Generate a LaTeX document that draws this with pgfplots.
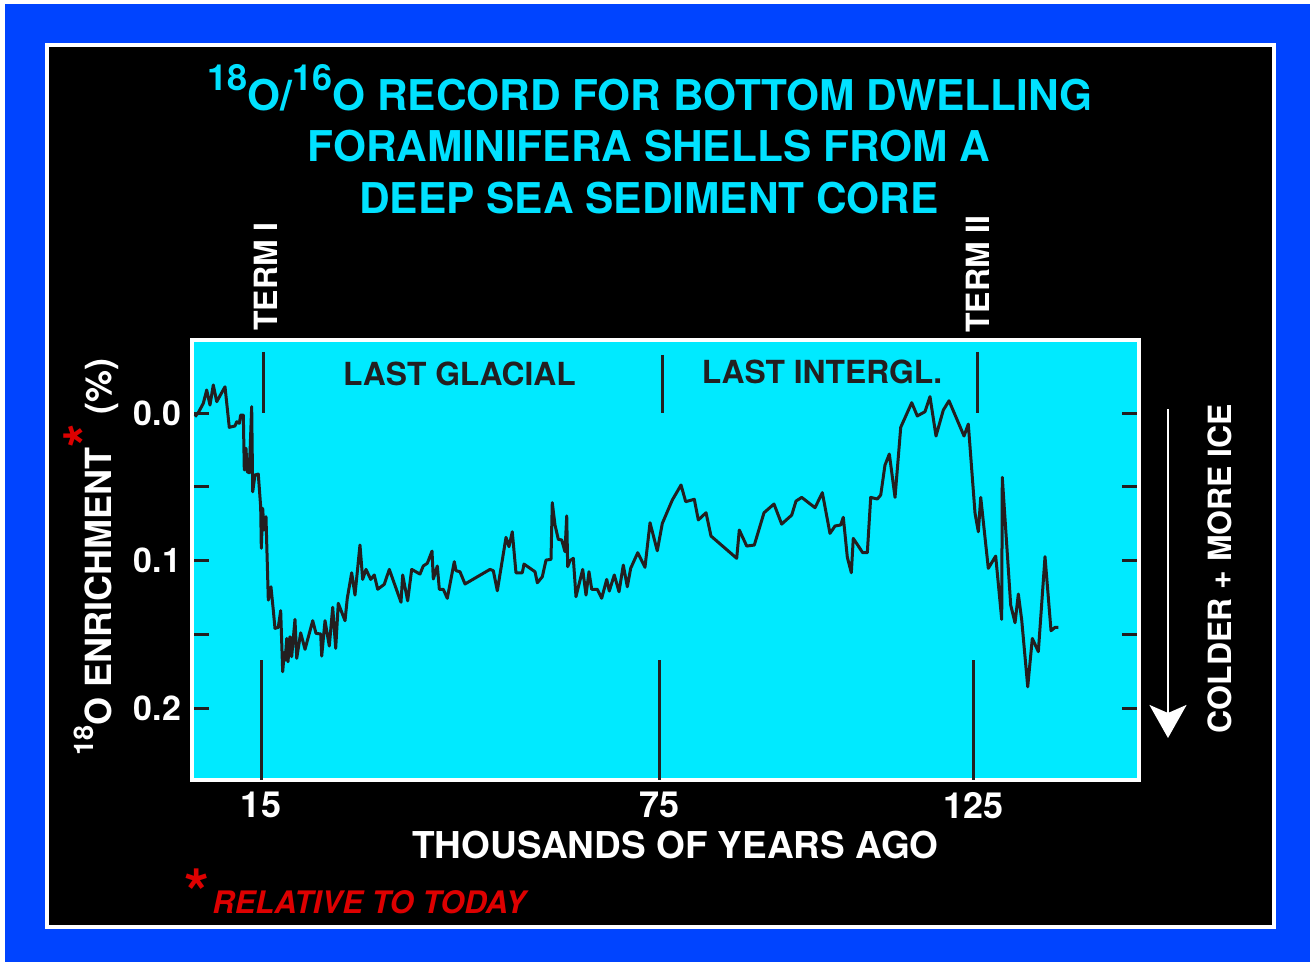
\documentclass[border=0pt]{standalone}
\usepackage{fontspec}
\setmainfont{TeX Gyre Heros}
\usepackage{pgfplots}
\pgfplotsset{compat=1.18}
\usetikzlibrary{arrows.meta}
\definecolor{SlideBlue}{RGB}{0,68,255}
\definecolor{CoreCyan}{RGB}{0,234,255}
\definecolor{TitleCyan}{RGB}{0,225,255}
\definecolor{CoreInk}{RGB}{35,31,32}
\definecolor{StarRed}{RGB}{221,0,0}

\begin{document}
\begin{tikzpicture}
% slide background, in pixel units of the original (origin = lower left of the axis)
\begin{scope}[shift={(-96pt,390pt)},x=0.5pt,y=-0.5pt]
\fill[white] (0,0) rectangle (1314,966);
\fill[SlideBlue] (5,4) rectangle (1310,962);
\fill[white] (45,43) rectangle (1276,929);
\fill[black] (49,47) rectangle (1272,925);
\end{scope}

\begin{axis}[
	at={(0pt,0pt)}, anchor=south west,
	scale only axis,
	width=473.5pt, height=220pt,
	xmin=4.34, xmax=150.64,
	ymin=-0.0495, ymax=0.2488,
	y dir=reverse,
	axis background/.style={fill=CoreCyan},
	axis line style={white, line width=2pt},
	xtick={15,76.49,125},
	xticklabels={15,75,125},
	xtick style={draw=none},
	xticklabel pos=lower,
	ytick={0,0.05,0.1,0.15,0.2},
	yticklabels={0.0,,0.1,,0.2},
	ytick pos=both,
	yticklabel pos=left,
	tick align=inside,
	major tick length=8.5pt,
	ytick style={CoreInk, line width=1.5pt},
	ticklabel style={text=white},
	xticklabel style={font=\bfseries\fontsize{18}{20}\selectfont, yshift=-2.5pt},
	yticklabel style={font=\bfseries\fontsize{17}{19}\selectfont, xshift=-2pt},
	/pgf/number format/assume math mode=true,
]
\addplot[CoreInk, line width=1.5pt, line join=round, mark=none] coordinates {
(4.80,0.0025) (5.31,-0.0002) (6.09,-0.0066) (6.61,-0.0156) (7.12,-0.0054) (7.63,-0.0190)
(8.16,-0.0077) (9.44,-0.0178) (10.10,0.0097) (10.98,0.0088) (11.25,0.0059) (11.65,0.0070)
(11.86,0.0014) (12.27,0.0014) (12.42,0.0386) (12.68,0.0239) (12.88,0.0398) (13.19,0.0405)
(13.56,-0.0043) (13.72,0.0534) (14.07,0.0420) (14.58,0.0414) (14.95,0.0635) (15.05,0.0917)
(15.26,0.0646) (15.46,0.0793) (15.77,0.0703) (16.13,0.1268) (16.54,0.1178) (16.90,0.1336)
(17.16,0.1460) (17.67,0.1453) (18.04,0.1340) (18.35,0.1754) (18.60,0.1625) (18.75,0.1675)
(18.97,0.1528) (19.17,0.1686) (19.48,0.1517) (19.74,0.1652) (20.25,0.1399) (20.52,0.1663)
(21.13,0.1490) (21.80,0.1602) (22.99,0.1408) (23.50,0.1494) (24.22,0.1498) (24.38,0.1648)
(24.89,0.1408) (25.55,0.1580) (26.08,0.1317) (26.54,0.1595) (26.94,0.1290) (27.98,0.1408)
(28.33,0.1256) (29.01,0.1083) (29.52,0.1234) (30.29,0.0895) (30.71,0.1128) (31.22,0.1060)
(31.95,0.1128) (32.50,0.1098) (33.03,0.1195) (34.05,0.1161) (34.82,0.1060) (36.63,0.1283)
(36.89,0.1098) (37.25,0.1182) (37.66,0.1273) (38.28,0.1060) (39.56,0.1092) (40.07,0.1037)
(40.69,0.1019) (41.42,0.0936) (41.62,0.1125) (42.24,0.1037) (42.55,0.1195) (43.16,0.1195)
(43.78,0.1256) (44.86,0.1008) (45.13,0.1069) (45.74,0.1076) (46.52,0.1159) (50.38,0.1060)
(50.89,0.1069) (51.51,0.1205) (52.85,0.0843) (53.31,0.0906) (53.82,0.0805) (54.39,0.1083)
(55.37,0.1083) (55.63,0.1024) (57.33,0.1076) (57.69,0.1151) (58.46,0.1110) (59.03,0.0997)
(59.80,0.0992) (60.00,0.0608) (60.42,0.0759) (60.93,0.0856) (61.46,0.0861) (61.96,0.0940)
(62.23,0.0698) (62.38,0.1042) (62.74,0.1001) (63.25,0.0985) (63.66,0.1245) (64.70,0.1060)
(65.21,0.1234) (65.67,0.1076) (66.09,0.1195) (66.96,0.1195) (67.63,0.1256) (68.41,0.1128)
(68.81,0.1207) (69.58,0.1098) (70.31,0.1212) (70.97,0.1031) (71.59,0.1178) (72.11,0.1053)
(73.20,0.0947) (74.32,0.1046) (75.10,0.0744) (76.22,0.0934) (77.00,0.0748) (78.54,0.0590)
(79.89,0.0488) (80.61,0.0601) (81.94,0.0585) (82.56,0.0725) (83.75,0.0676) (84.52,0.0834)
(88.49,0.0985) (88.89,0.0793) (90.04,0.0902) (91.21,0.0895) (92.71,0.0676) (94.25,0.0617)
(95.44,0.0753) (96.99,0.0692) (97.65,0.0597) (98.53,0.0572) (100.59,0.0642) (101.72,0.0540)
(102.90,0.0816) (103.68,0.0766) (104.56,0.0759) (104.96,0.0707) (105.58,0.0978) (106.20,0.1083)
(106.50,0.0850) (107.96,0.0947) (108.67,0.0947) (109.19,0.0572) (110.21,0.0583) (110.74,0.0556)
(111.40,0.0353) (112.07,0.0278) (112.95,0.0572) (113.83,0.0097) (115.53,-0.0070) (116.39,0.0020)
(117.58,-0.0009) (118.35,-0.0111) (119.28,0.0156) (120.41,-0.0020) (121.29,-0.0083) (123.61,0.0156)
(124.27,0.0075) (125.31,0.0680) (125.82,0.0805) (126.19,0.0572) (127.36,0.1053) (128.50,0.0970)
(129.43,0.1399) (129.52,0.0436) (130.82,0.1302) (131.49,0.1422) (132.00,0.1227) (132.52,0.1403)
(133.45,0.1856) (134.16,0.1528) (135.09,0.1618) (136.12,0.0974) (137.05,0.1476) (137.67,0.1453)
(138.18,0.1453)
};
% period markers
\draw[CoreInk, line width=1.5pt] (axis cs:15,0.1675) -- (axis cs:15,0.2488);
\draw[CoreInk, line width=1.5pt] (axis cs:76.49,0.1675) -- (axis cs:76.49,0.2488);
\draw[CoreInk, line width=1.5pt] (axis cs:125,0.1675) -- (axis cs:125,0.2488);
\draw[CoreInk, line width=1.5pt] (axis cs:15.46,-0.0414) -- (axis cs:15.46,0);
\draw[CoreInk, line width=1.5pt] (axis cs:76.95,-0.0394) -- (axis cs:76.95,0);
\draw[CoreInk, line width=1.5pt] (axis cs:125.62,-0.0414) -- (axis cs:125.62,0);
\end{axis}

\begin{scope}[shift={(-96pt,390pt)},x=0.5pt,y=-0.5pt,every node/.style={inner sep=0pt}]
% title
\node[anchor=base, text=TitleCyan, font=\bfseries\fontsize{21.2}{24}\selectfont] at (650,111)
  {\raisebox{10pt}{\fontsize{18}{18}\selectfont 18}O/\raisebox{10pt}{\fontsize{18}{18}\selectfont 16}O RECORD FOR BOTTOM DWELLING};
\node[anchor=base, text=TitleCyan, font=\bfseries\fontsize{21.2}{24}\selectfont] at (649,162) {FORAMINIFERA SHELLS FROM A};
\node[anchor=base, text=TitleCyan, font=\bfseries\fontsize{21.2}{24}\selectfont] at (649,213) {DEEP SEA SEDIMENT CORE};
% period labels
\node[anchor=base, rotate=90, text=white, font=\bfseries\fontsize{16}{18}\selectfont] at (278,276.5) {TERM I};
\node[anchor=base, rotate=90, text=white, font=\bfseries\fontsize{16}{18}\selectfont] at (989,274) {TERM II};
\node[anchor=base, text=CoreInk, font=\bfseries\fontsize{15.9}{18}\selectfont] at (459.5,386) {LAST GLACIAL};
\node[anchor=base, text=CoreInk, font=\bfseries\fontsize{15.9}{18}\selectfont] at (822,383) {LAST INTERGL.};
% axis titles
\node[anchor=base, text=white, font=\bfseries\fontsize{18.5}{20}\selectfont] at (675.5,858) {THOUSANDS OF YEARS AGO};
\node[anchor=base, rotate=90, text=white, font=\bfseries\fontsize{18}{20}\selectfont] at (112,557)
  {\raisebox{9pt}{\fontsize{13.5}{13.5}\selectfont 18}O ENRICHMENT{\color{StarRed}\fontsize{30}{30}\selectfont\raisebox{2pt}{*}}\ (\%)};
\node[anchor=base, rotate=90, text=white, font=\bfseries\fontsize{16}{18}\selectfont] at (1231,568.5) {COLDER + MORE ICE};
\draw[white, line width=1.4pt, -{Stealth[length=16.5pt,width=18.5pt,inset=4pt]}] (1168,409) -- (1168,738);
% footnote
\node[anchor=base, text=StarRed, font=\bfseries\fontsize{32}{32}\selectfont] at (197,915) {*};
\node[anchor=base west, text=StarRed, font=\bfseries\itshape\fontsize{15.5}{18}\selectfont] at (212,913) {RELATIVE TO TODAY};
\end{scope}
\end{tikzpicture}
\end{document}
